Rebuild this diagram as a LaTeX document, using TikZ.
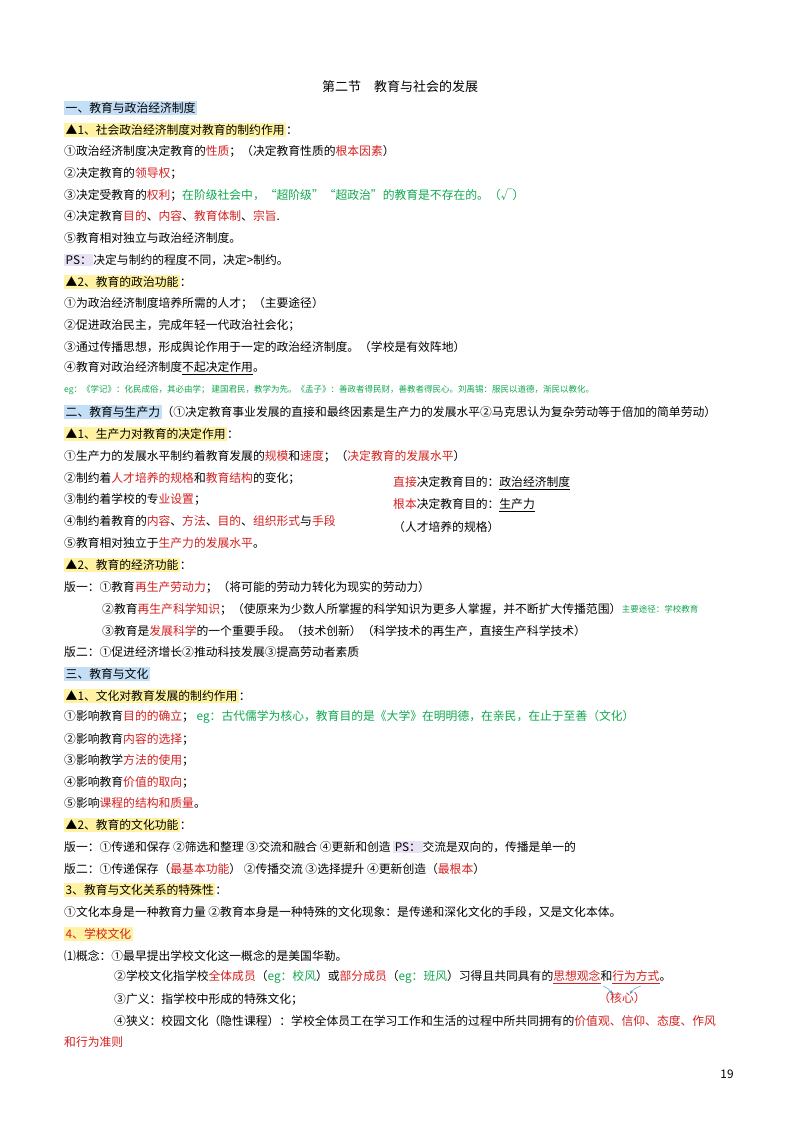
\documentclass[tikz,border=0pt]{standalone}
\usepackage{fontspec}
\setmainfont{Noto Sans CJK SC}
\usetikzlibrary{arrows.meta}
\definecolor{rr}{HTML}{D42020}
\definecolor{gg}{HTML}{10A850}
\definecolor{hy}{HTML}{FFF3A3}
\definecolor{hb}{HTML}{C4DFF5}
\definecolor{hp}{HTML}{E8E2F4}
\definecolor{ab}{HTML}{4A8FD8}
\newcommand{\rd}[1]{\textcolor{rr}{#1}}
\newcommand{\gr}[1]{\textcolor{gg}{#1}}
\newcommand{\hlx}[2]{{\setlength{\fboxsep}{1.5pt}\colorbox{#1}{#2}}}
\newcommand{\ul}[1]{\underline{#1}}
\tikzset{t/.style={anchor=west,inner sep=0pt,font=\fontsize{11.8}{13}\selectfont},
  sm/.style={anchor=west,inner sep=0pt,font=\fontsize{8.5}{10}\selectfont}}
\begin{document}
\begin{tikzpicture}[x=1pt,y=-1pt]
\useasboundingbox[fill=white] (0,0) rectangle (800,1130);
\node[anchor=center,inner sep=0pt,font=\fontsize{13}{15}\selectfont] (title) at (400,87) {第二节\quad 教育与社会的发展};
\node[t] (a1) at (64,108) {\hlx{hb}{一、教育与政治经济制度}};
\node[t] (a2) at (64,130) {\hlx{hy}{▲1、社会政治经济制度对教育的制约作用}：};
\node[t] (a3) at (64,151) {①政治经济制度决定教育的\rd{性质}；（决定教育性质的\rd{根本因素}）};
\node[t] (a4) at (64,173) {②决定教育的\rd{领导权}；};
\node[t] (a5) at (64,195) {③决定受教育的\rd{权利}；\gr{在阶级社会中，“超阶级”“超政治”的教育是不存在的。（√）}};
\node[t] (a6) at (64,216) {④决定教育\rd{目的}、\rd{内容}、\rd{教育体制}、\rd{宗旨}.};
\node[t] (a7) at (64,238) {⑤教育相对独立与政治经济制度。};
\node[t] (a8) at (64,260) {\hlx{hp}{PS：}决定与制约的程度不同，决定>制约。};
\node[t] (a9) at (64,282) {\hlx{hy}{▲2、教育的政治功能}：};
\node[t] (a10) at (64,303) {①为政治经济制度培养所需的人才；（主要途径）};
\node[t] (a11) at (64,325) {②促进政治民主，完成年轻一代政治社会化；};
\node[t] (a12) at (64,347) {③通过传播思想，形成舆论作用于一定的政治经济制度。（学校是有效阵地）};
\node[t] (a13) at (64,368) {④教育对政治经济制度\ul{不起决定作用}。};
\node[sm] (a14) at (64,390) {\gr{eg：《学记》：化民成俗，其必由学；\ 建国君民，教学为先。《孟子》：善政者得民财，善教者得民心。刘禹锡：服民以道德，渐民以教化。}};
\node[t] (b1) at (64,412) {\hlx{hb}{二、教育与生产力}（①决定教育事业发展的直接和最终因素是生产力的发展水平②马克思认为复杂劳动等于倍加的简单劳动）};
\node[t] (b2) at (64,434) {\hlx{hy}{▲1、生产力对教育的决定作用}：};
\node[t] (b3) at (64,456) {①生产力的发展水平制约着教育发展的\rd{规模}和\rd{速度}；（\rd{决定教育的发展水平}）};
\node[t] (b4) at (64,478) {②制约着\rd{人才培养的规格}和\rd{教育结构}的变化；};
\node[t] (b5) at (64,499) {③制约着学校的专\rd{业设置}；};
\node[t] (b6) at (64,521) {④制约着教育的\rd{内容}、\rd{方法}、\rd{目的}、\rd{组织形式}与\rd{手段}};
\node[t] (b7) at (64,543) {⑤教育相对独立于\rd{生产力的发展水平}。};
\node[t] (c1) at (393,483) {\rd{直接}决定教育目的：\ul{政治经济制度}};
\node[t] (c2) at (393,505) {\rd{根本}决定教育目的：\ul{生产力}};
\node[t] (c3) at (393,527) {（人才培养的规格）};
\node[t] (b8) at (64,565) {\hlx{hy}{▲2、教育的经济功能}：};
\node[t] (b9) at (64,587) {版一：①教育\rd{再生产劳动力}；（将可能的劳动力转化为现实的劳动力）};
\node[t] (b10) at (102,609) {②教育\rd{再生产科学知识}；（使原来为少数人所掌握的科学知识为更多人掌握，并不断扩大传播范围）};
\node[sm] (b10g) at (b10.east) {\gr{主要途径：学校教育}};
\node[t] (b11) at (102,631) {③教育是\rd{发展科学}的一个重要手段。（技术创新）（科学技术的再生产，直接生产科学技术）};
\node[t] (b12) at (64,652) {版二：①促进经济增长②推动科技发展③提高劳动者素质};
\node[t] (d1) at (64,674) {\hlx{hb}{三、教育与文化}};
\node[t] (d2) at (64,696) {\hlx{hy}{▲1、文化对教育发展的制约作用}：};
\node[t] (d3) at (64,717) {①影响教育\rd{目的的确立}；\ \gr{eg：古代儒学为核心，教育目的是《大学》在明明德，在亲民，在止于至善（文化）}};
\node[t] (d4) at (64,739) {②影响教育\rd{内容的选择}；};
\node[t] (d5) at (64,760) {③影响教学\rd{方法的使用}；};
\node[t] (d6) at (64,782) {④影响教育\rd{价值的取向}；};
\node[t] (d7) at (64,803) {⑤影响\rd{课程的结构和质量}。};
\node[t] (d8) at (64,825) {\hlx{hy}{▲2、教育的文化功能}：};
\node[t] (d9) at (64,847) {版一：①传递和保存 ②筛选和整理 ③交流和融合 ④更新和创造 \hlx{hp}{PS：}交流是双向的，传播是单一的};
\node[t] (d10) at (64,869) {版二：①传递保存（\rd{最基本功能}） ②传播交流 ③选择提升 ④更新创造（\rd{最根本}）};
\node[t] (d11) at (64,890) {\hlx{hy}{3、教育与文化关系的特殊性}：};
\node[t] (d12) at (64,912) {①文化本身是一种教育力量 ②教育本身是一种特殊的文化现象：是传递和深化文化的手段，又是文化本体。};
\node[t] (e1) at (64,934) {\hlx{hy}{\rd{4、学校文化}}};
\node[t] (e2) at (64,956) {⑴概念：①最早提出学校文化这一概念的是美国华勒。};
\node[t] (e3) at (114,977) {②学校文化指学校\rd{全体成员}（\gr{eg：校风}）或\rd{部分成员}（\gr{eg：班风}）习得且共同具有的\rd{\ul{思想观念}}和\rd{\ul{行为方式}}。};
\node[t] (e4) at (114,999) {③广义：指学校中形成的特殊文化；};
\node[t,anchor=center] (hx) at (622,998) {\rd{（核心）}};
\node[t] (e5) at (114,1021) {④狭义：校园文化（隐性课程）：学校全体员工在学习工作和生活的过程中所共同拥有的\rd{价值观、信仰、态度、作风}};
\node[t] (e6) at (64,1042) {\rd{和行为准则}};
\node[t,anchor=center] (pg) at (727,1074) {19};
\coordinate (s1) at (603,986);
\coordinate (s2) at (641,986);
\draw[ab,-{Stealth[length=4pt]}] (s1) to[bend left=20] (612,994);
\draw[ab,-{Stealth[length=4pt]}] (s2) to[bend right=20] (630,994);
\end{tikzpicture}
\end{document}
